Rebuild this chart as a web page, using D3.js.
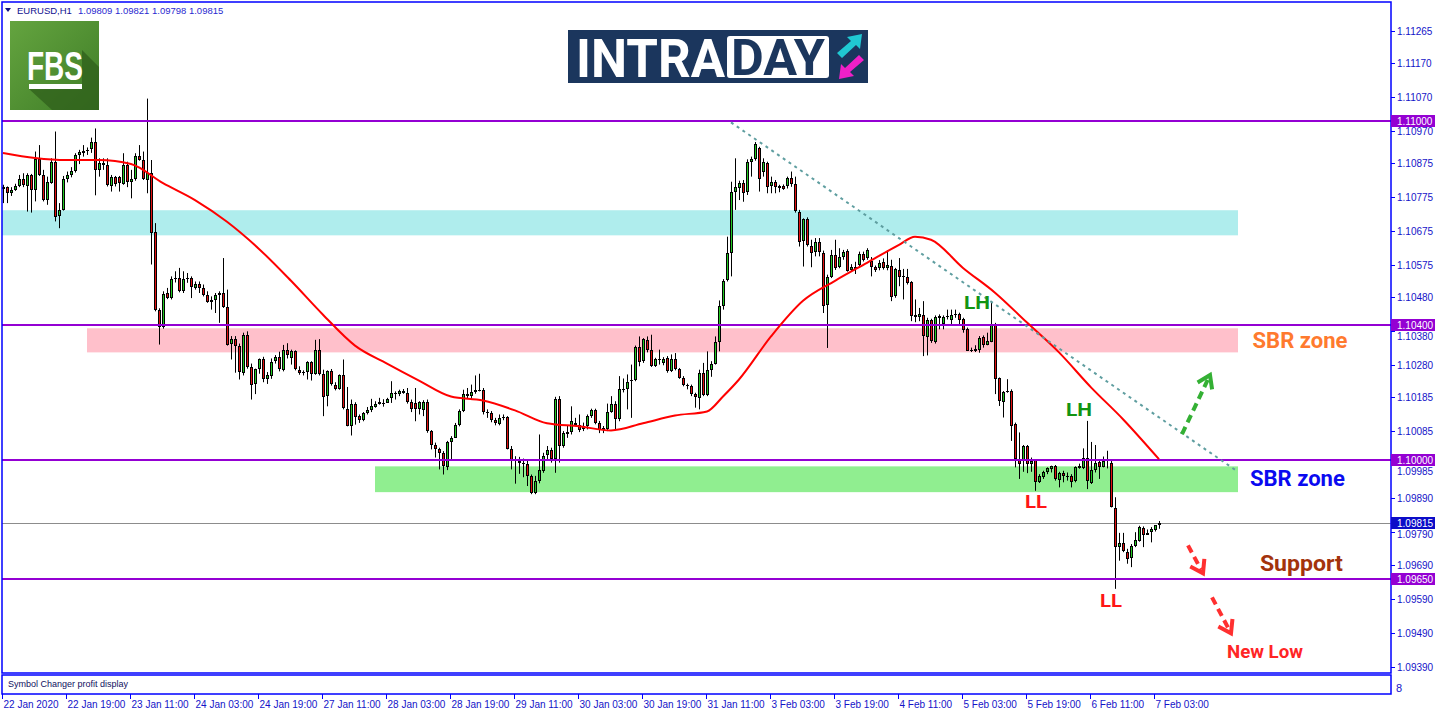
<!DOCTYPE html>
<html>
<head>
<meta charset="utf-8">
<script src="https://cdn.jsdelivr.net/npm/d3@7"></script>
<style>
body { margin: 0; background: #fff; }
svg { display: block; font-family: "Liberation Sans", Arial, sans-serif; }
</style>
</head>
<body>
<div id="container"></div>
<script>
const symbolName = "EURUSD,H1";
const lastQuote = ["1.09809", "1.09821", "1.09798", "1.09815"];

// H1 candles [open, high, low, close] in points, 10860 = 1.10860
const candles = [
  [10805,10812,10758,10800],[10804,10807,10758,10787],[10787,10805,10779,10797],[10796,10815,10794,10809],
  [10808,10841,10805,10828],[10828,10846,10805,10809],[10809,10846,10733,10841],[10841,10844,10730,10797],
  [10797,10910,10763,10887],[10887,10929,10838,10841],[10841,10856,10763,10766],[10766,10836,10753,10819],
  [10819,10890,10815,10880],[10880,10969,10704,10719],[10719,10758,10684,10738],[10738,10838,10736,10828],
  [10828,10851,10819,10841],[10841,10864,10834,10854],[10854,10905,10848,10900],[10900,10915,10873,10908],
  [10908,10929,10895,10912],[10912,10922,10900,10915],[10915,10951,10906,10937],[10937,10978,10781,10854],
  [10854,10890,10836,10875],[10875,10890,10856,10870],[10870,10890,10807,10810],[10810,10841,10792,10836],
  [10836,10838,10807,10815],[10834,10838,10792,10815],[10815,10905,10812,10870],[10870,10880,10805,10819],
  [10819,10856,10772,10829],[10829,10905,10824,10897],[10897,10929,10883,10885],[10885,10910,10826,10828],
  [10828,11066,10787,10848],[10848,10885,10577,10672],[10672,10699,10439,10442],[10442,10448,10341,10393],
  [10393,10498,10388,10491],[10493,10508,10475,10478],[10478,10542,10474,10534],[10534,10557,10524,10536],
  [10536,10567,10495,10498],[10498,10557,10493,10534],[10534,10552,10523,10536],[10536,10542,10478,10508],
  [10508,10527,10503,10521],[10521,10527,10493,10508],[10508,10518,10483,10488],[10488,10498,10464,10467],
  [10467,10483,10444,10472],[10472,10493,10434,10488],[10488,10498,10405,10493],[10493,10596,10449,10452],
  [10452,10503,10338,10341],[10341,10366,10297,10356],[10356,10366,10258,10336],[10336,10344,10238,10258],
  [10258,10376,10250,10369],[10370,10380,10270,10276],[10276,10285,10179,10223],[10223,10270,10195,10268],
  [10268,10300,10255,10297],[10297,10305,10230,10238],[10238,10260,10225,10250],[10250,10300,10240,10291],
  [10291,10310,10285,10303],[10303,10320,10262,10268],[10268,10340,10262,10326],[10326,10345,10300,10311],
  [10301,10326,10282,10321],[10321,10324,10265,10267],[10267,10277,10252,10257],[10257,10265,10250,10260],
  [10260,10292,10238,10289],[10289,10292,10235,10255],[10255,10355,10252,10326],[10326,10357,10250,10255],
  [10255,10267,10130,10187],[10187,10265,10159,10262],[10262,10269,10220,10223],[10223,10230,10206,10210],
  [10210,10253,10208,10250],[10250,10297,10150,10152],[10152,10216,10100,10103],[10103,10179,10073,10167],
  [10167,10171,10105,10130],[10130,10135,10110,10118],[10118,10142,10115,10140],[10140,10157,10135,10148],
  [10148,10181,10142,10159],[10159,10174,10155,10167],[10167,10184,10164,10173],[10168,10180,10158,10170],
  [10170,10184,10169,10181],[10181,10233,10169,10197],[10197,10203,10179,10194],[10194,10208,10189,10203],
  [10203,10210,10196,10199],[10199,10213,10167,10171],[10171,10179,10142,10150],[10169,10213,10115,10150],
  [10150,10174,10135,10171],[10147,10177,10130,10171],[10171,10179,10081,10086],[10086,10089,10032,10045],
  [10045,10052,10008,10032],[10032,10037,9973,10020],[10020,10027,9958,9981],[9981,10057,9971,10054],
  [10054,10071,10003,10066],[10066,10110,10066,10103],[10103,10150,10100,10145],[10145,10208,10142,10196],
  [10196,10213,10181,10190],[10190,10223,10179,10201],[10201,10250,10196,10206],[10206,10255,10203,10208],
  [10206,10213,10135,10142],[10142,10150,10125,10140],[10140,10145,10112,10118],[10118,10125,10103,10108],
  [10108,10135,10103,10125],[10125,10135,10118,10127],[10127,10130,10032,10034],[10034,10042,9973,10003],
  [10003,10012,9931,9998],[9998,10010,9960,9993],[9993,10005,9950,9990],[9990,9998,9924,9954],
  [9954,9958,9900,9903],[9903,9954,9900,9939],[9939,10076,9932,9971],[9971,10022,9963,10014],
  [10014,10042,9998,10029],[10029,10037,9993,10003],[10003,10187,9963,10181],[10181,10189,9993,10042],
  [10042,10086,10037,10079],[10079,10101,10066,10083],[10083,10159,10076,10115],[10110,10125,10100,10103],
  [10103,10135,10083,10088],[10090,10111,10086,10100],[10100,10135,10091,10130],[10130,10152,10125,10148],
  [10148,10152,10106,10111],[10111,10116,10080,10091],[10091,10101,10080,10096],[10093,10167,10086,10142],
  [10142,10189,10140,10167],[10165,10174,10091,10120],[10120,10248,10115,10209],[10209,10241,10200,10211],
  [10209,10253,10150,10231],[10233,10282,10125,10236],[10236,10338,10233,10334],[10334,10365,10277,10290],
  [10290,10360,10287,10356],[10354,10365,10318,10324],[10324,10370,10275,10277],[10277,10302,10275,10297],
  [10297,10326,10282,10299],[10287,10304,10280,10299],[10302,10307,10258,10263],[10263,10312,10260,10299],
  [10299,10316,10265,10269],[10269,10272,10240,10243],[10243,10248,10218,10221],[10221,10226,10209,10219],
  [10219,10223,10189,10194],[10194,10199,10155,10184],[10184,10267,10150,10258],[10258,10287,10189,10192],
  [10192,10321,10189,10265],[10265,10292,10246,10284],[10284,10365,10282,10350],[10350,10471,10321,10456],
  [10456,10534,10444,10529],[10529,10659,10527,10610],[10610,10821,10542,10790],[10790,10890,10738,10804],
  [10804,10824,10767,10818],[10818,10826,10762,10789],[10789,10887,10782,10878],[10878,10895,10836,10888],
  [10888,10938,10883,10931],[10919,10924,10792,10828],[10848,10890,10836,10878],[10875,10880,10787,10804],
  [10806,10836,10787,10819],[10819,10826,10787,10804],[10804,10812,10790,10808],[10808,10813,10797,10800],
  [10806,10836,10801,10831],[10831,10851,10806,10813],[10813,10836,10730,10733],[10733,10738,10630,10645],
  [10645,10713,10571,10710],[10710,10716,10630,10632],[10632,10650,10569,10612],[10612,10655,10601,10642],
  [10642,10655,10601,10612],[10612,10618,10434,10456],[10456,10547,10331,10540],[10540,10620,10537,10606],
  [10606,10650,10561,10569],[10569,10625,10566,10598],[10601,10620,10591,10615],[10617,10622,10556,10559],
  [10563,10578,10555,10571],[10571,10585,10549,10565],[10576,10615,10571,10608],[10608,10615,10586,10591],
  [10595,10625,10591,10620],[10587,10599,10542,10570],[10570,10574,10555,10560],[10567,10590,10560,10582],
  [10584,10595,10562,10567],[10567,10619,10560,10577],[10574,10591,10469,10484],[10484,10567,10479,10564],
  [10562,10596,10513,10542],[10542,10564,10474,10540],[10540,10564,10518,10521],[10526,10528,10410,10425],
  [10428,10474,10407,10422],[10423,10449,10410,10432],[10427,10469,10307,10366],[10364,10420,10309,10413],
  [10413,10417,10346,10351],[10348,10427,10344,10423],[10420,10430,10386,10425],[10403,10427,10386,10423],
  [10423,10444,10415,10425],[10413,10444,10400,10427],[10427,10444,10420,10430],[10430,10435,10400,10413],
  [10417,10420,10376,10384],[10388,10391,10322,10324],[10324,10332,10319,10323],[10324,10339,10319,10329],
  [10327,10366,10317,10361],[10364,10368,10332,10339],[10339,10376,10339,10351],[10351,10464,10348,10403],
  [10403,10405,10195,10241],[10241,10244,10160,10172],[10172,10204,10126,10201],[10201,10239,10199,10204],
  [10204,10209,10057,10101],[10106,10111,9979,10003],[10003,10082,9945,9989],[10001,10045,9966,10043],
  [10041,10045,9962,9989],[9989,10008,9966,9999],[10001,10003,9910,9937],[9935,9959,9933,9954],
  [9952,9969,9945,9966],[9964,9979,9959,9976],[9972,9984,9964,9982],[9984,9986,9940,9945],
  [9940,9966,9920,9962],[9962,9969,9935,9954],[9954,9964,9940,9952],[9954,9959,9920,9937],
  [9937,9982,9935,9979],[9979,9990,9975,9984],[9979,10035,9974,10008],[10008,10116,9915,9940],
  [9933,10054,9930,9972],[9972,10045,9964,9992],[9996,10003,9945,9982],[9982,10011,9979,9999],
  [10005,10028,9976,9999],[9992,9999,9861,9861],[9858,9891,9621,9744],[9744,9786,9704,9756],
  [9756,9786,9729,9731],[9731,9739,9695,9709],[9711,9753,9685,9747],[9747,9788,9744,9765],
  [9763,9807,9760,9803],[9800,9805,9744,9780],[9780,9796,9780,9786],[9788,9803,9758,9796],
  [9795,9809,9790,9809],[9809,9821,9798,9815]
];

const timeTickBars = [0, 16, 32, 48, 64, 80, 96, 112, 128, 144, 160, 176, 192, 208, 224, 240, 256, 272, 288];
const timeLabels = ["22 Jan 2020", "22 Jan 19:00", "23 Jan 11:00", "24 Jan 03:00", "24 Jan 19:00",
  "27 Jan 11:00", "28 Jan 03:00", "28 Jan 19:00", "29 Jan 11:00", "30 Jan 03:00", "30 Jan 19:00",
  "31 Jan 11:00", "3 Feb 03:00", "3 Feb 19:00", "4 Feb 11:00", "5 Feb 03:00", "5 Feb 19:00",
  "6 Feb 11:00", "7 Feb 03:00"];

const priceTicks = [1.11265, 1.11170, 1.11070, 1.10970, 1.10875, 1.10775, 1.10675, 1.10575, 1.10480, 1.10380,
  1.10280, 1.10185, 1.10085, 1.09985, 1.09890, 1.09790, 1.09690, 1.09590, 1.09490, 1.09390];

const levels = [1.11000, 1.10400, 1.10000, 1.09650];
const bidPrice = 1.09815;

// moving average at these bars
const maBars = [0, 8, 16, 24, 32, 40, 48, 56, 64, 72, 80, 88, 96, 104, 112, 120, 128, 136, 144, 152, 160, 168,
  176, 180, 184, 192, 200, 208, 216, 224, 228, 232, 240, 248, 256, 264, 272, 280, 289];
const maValues = [10906, 10891, 10885, 10885, 10873, 10817, 10767, 10703, 10623, 10529, 10429, 10338, 10285,
  10235, 10188, 10176, 10147, 10109, 10100, 10088, 10109, 10132, 10144, 10188, 10238, 10365, 10470, 10529,
  10582, 10635, 10659, 10650, 10567, 10494, 10406, 10318, 10215, 10121, 10003];

// zones
const zoneFrom = [-0.25, 21, 93];
const zoneTo = [308.75, 308.75, 308.75];
const zoneTop = [1.10737, 1.10389, 1.09982];
const zoneBottom = [1.10663, 1.10318, 1.09906];
const zoneColors = ["#afeded", "#ffc0cb", "#90ee90"];

// trend line
const trendBars = [182, 308.5];
const trendPrices = [1.10996, 1.09968];

// text labels
const noteText = ["LH", "LH", "LL", "LL", "SBR zone", "SBR zone", "Support", "New Low"];
const noteBar = [243.5, 269, 258.25, 277, 324.25, 323.6, 324.6, 315.5];
const notePrice = [1.10445, 1.1013, 1.09859, 1.09567, 1.1033, 1.09923, 1.09673, 1.09416];
const noteColors = ["#129412", "#129412", "#ff1515", "#ff1515", "#ff7a2e", "#0a0af0", "#a3330c", "#ff2525"];
const noteSize = [18, 18, 18, 18, 22, 22, 22, 19];
const noteWidth = [26, 26, 22, 22, 95, 95, 83, 76];

// dashed arrows [bar, price]
const arrowFrom = [[294.75, 1.10077], [296.25, 1.09749], [302.25, 1.09596]];
const arrowTo = [[301.75, 1.10251], [300, 1.09667], [307, 1.0949]];
const arrowColors = ["#34b034", "#ff3030", "#ff3030"];

const width = 1436, height = 716;
const plotLeft = 2, plotRight = 1391, plotTop = 2, plotBottom = 673;
const axisColor = "#0000ff";
const textColor = "#1414c8";

const x = d3.scaleLinear().domain([0, 1]).range([3, 7]);
const y = d3.scaleLinear().domain([1.0965, 1.11]).range([579, 121]);
const pt = v => 1 + v / 100000;

const svg = d3.create("svg")
  .attr("width", width)
  .attr("height", height)
  .attr("viewBox", `0 0 ${width} ${height}`);

svg.append("rect").attr("width", width).attr("height", height).attr("fill", "#fff");

svg.append("clipPath").attr("id", "plot")
  .append("rect")
  .attr("x", plotLeft).attr("y", plotTop)
  .attr("width", plotRight - plotLeft).attr("height", plotBottom - plotTop);

const plot = svg.append("g").attr("clip-path", "url(#plot)");

// zones
plot.selectAll(".zone")
  .data(zoneFrom)
  .join("rect")
  .attr("x", (d, i) => x(d))
  .attr("y", (d, i) => y(zoneTop[i]))
  .attr("width", (d, i) => x(zoneTo[i]) - x(d))
  .attr("height", (d, i) => y(zoneBottom[i]) - y(zoneTop[i]))
  .attr("fill", (d, i) => zoneColors[i]);

// bid line
plot.append("line")
  .attr("x1", plotLeft).attr("x2", plotRight)
  .attr("y1", Math.round(y(bidPrice)) + 0.5).attr("y2", Math.round(y(bidPrice)) + 0.5)
  .attr("stroke", "#8c8c8c").attr("stroke-width", 1);

// candles
const candleG = plot.append("g");
candles.forEach((d, i) => {
  const [o, h, l, c] = d.map(pt);
  const cx = Math.round(x(i)) + 0.5;
  candleG.append("line")
    .attr("x1", cx).attr("x2", cx)
    .attr("y1", y(h)).attr("y2", y(l))
    .attr("stroke", "#000").attr("stroke-width", 1);
  const top = Math.min(y(o), y(c));
  const bh = Math.abs(y(o) - y(c));
  if (bh < 1.2) {
    candleG.append("line")
      .attr("x1", cx - 1.5).attr("x2", cx + 1.5)
      .attr("y1", Math.round(top) + 0.5).attr("y2", Math.round(top) + 0.5)
      .attr("stroke", "#000");
  } else {
    candleG.append("rect")
      .attr("x", cx - 1).attr("y", Math.round(top) + 0.5)
      .attr("width", 2).attr("height", Math.max(1, Math.round(bh) - 1))
      .attr("fill", c >= o ? "#22c822" : "#e01010")
      .attr("stroke", "#000").attr("stroke-width", 1);
  }
});

// horizontal levels
plot.selectAll(".level")
  .data(levels)
  .join("line")
  .attr("x1", plotLeft).attr("x2", plotRight)
  .attr("y1", d => Math.round(y(d))).attr("y2", d => Math.round(y(d)))
  .attr("stroke", "#9400d3").attr("stroke-width", 2);

// moving average
const ma = maBars.map((b, i) => [b, pt(maValues[i])]);
plot.append("path")
  .datum(ma)
  .attr("fill", "none")
  .attr("stroke", "#ff0000")
  .attr("stroke-width", 2)
  .attr("d", d3.line().x(d => x(d[0])).y(d => y(d[1])).curve(d3.curveMonotoneX));

// trend line
plot.append("line")
  .attr("x1", x(trendBars[0])).attr("y1", y(trendPrices[0]))
  .attr("x2", x(trendBars[1])).attr("y2", y(trendPrices[1]))
  .attr("stroke", "#5f9ea0").attr("stroke-width", 2)
  .attr("stroke-dasharray", "3,4");

// arrows
arrowFrom.forEach((a, i) => {
  const x1 = x(a[0]), y1 = y(a[1]);
  const x2 = x(arrowTo[i][0]), y2 = y(arrowTo[i][1]);
  const len = Math.hypot(x2 - x1, y2 - y1);
  const dx = (x2 - x1) / len, dy = (y2 - y1) / len;
  const nx = -dy, ny = dx;
  plot.append("line")
    .attr("x1", x1).attr("y1", y1)
    .attr("x2", x2 - dx * 4).attr("y2", y2 - dy * 4)
    .attr("stroke", arrowColors[i]).attr("stroke-width", 4)
    .attr("stroke-dasharray", "8,5");
  const hl = 12, hw = 8;
  plot.append("polyline")
    .attr("points", [
      [x2 - dx * hl + nx * hw, y2 - dy * hl + ny * hw],
      [x2, y2],
      [x2 - dx * hl - nx * hw, y2 - dy * hl - ny * hw]
    ].map(p => p.join(",")).join(" "))
    .attr("fill", "none")
    .attr("stroke", arrowColors[i]).attr("stroke-width", 4)
    .attr("stroke-linejoin", "miter");
});

// notes
plot.selectAll(".note")
  .data(noteText)
  .join("text")
  .attr("x", (d, i) => x(noteBar[i]))
  .attr("y", (d, i) => y(notePrice[i]))
  .attr("text-anchor", "middle")
  .attr("font-family", "Roboto, 'Liberation Sans', sans-serif")
  .attr("font-weight", "bold")
  .attr("font-size", (d, i) => noteSize[i])
  .attr("textLength", (d, i) => noteWidth[i])
  .attr("lengthAdjust", "spacingAndGlyphs")
  .attr("fill", (d, i) => noteColors[i])
  .text(d => d);

// FBS logo
const fbs = svg.append("g");
const grad = svg.append("defs").append("linearGradient")
  .attr("id", "fbsGrad").attr("x1", 0).attr("y1", 0).attr("x2", 1).attr("y2", 1);
grad.append("stop").attr("offset", 0).attr("stop-color", "#64a43f");
grad.append("stop").attr("offset", 1).attr("stop-color", "#3f7d27");
fbs.append("rect").attr("x", 10).attr("y", 21).attr("width", 89).attr("height", 89).attr("fill", "url(#fbsGrad)");
fbs.append("polygon")
  .attr("points", "82,50 99,67 99,110 52,110 29,89 82,89")
  .attr("fill", "#2f5f1b").attr("opacity", 0.75);
fbs.append("text")
  .attr("x", 27).attr("y", 80)
  .attr("font-weight", "bold").attr("font-size", 40)
  .attr("textLength", 56).attr("lengthAdjust", "spacingAndGlyphs")
  .attr("fill", "#fff").text("FBS");
fbs.append("rect").attr("x", 29).attr("y", 84).attr("width", 53).attr("height", 5).attr("fill", "#fff");

// INTRADAY logo
const logo = svg.append("g");
logo.append("rect").attr("x", 568).attr("y", 30).attr("width", 300).attr("height", 53).attr("fill", "#1b365d");
logo.append("text")
  .attr("x", 576).attr("y", 77)
  .attr("font-family", "Roboto, 'Liberation Sans', sans-serif")
  .attr("font-weight", "bold").attr("font-size", 54)
  .attr("textLength", 149).attr("lengthAdjust", "spacingAndGlyphs")
  .attr("fill", "#fff").text("INTRA");
logo.append("rect").attr("x", 727).attr("y", 36).attr("width", 102).attr("height", 42).attr("rx", 3).attr("fill", "#fff");
logo.append("text")
  .attr("x", 731).attr("y", 75)
  .attr("font-family", "Roboto, 'Liberation Sans', sans-serif")
  .attr("font-weight", "bold").attr("font-size", 50)
  .attr("textLength", 94).attr("lengthAdjust", "spacingAndGlyphs")
  .attr("fill", "#1b365d").text("DAY");
logo.append("polygon")
  .attr("points", "837,53 851,41 847,37 862,34 860,49 856,45 842,58")
  .attr("fill", "#20c8d2");
logo.append("polygon")
  .attr("points", "864,60 850,72 854,76 839,79 841,64 845,68 859,55")
  .attr("fill", "#f020c8");

// header
svg.append("path").attr("d", "M5,8 L11,8 L8,12 Z").attr("fill", "#101080");
svg.append("text")
  .attr("x", 17).attr("y", 14)
  .attr("font-size", 9.5).attr("fill", "#101090")
  .text(symbolName);
svg.append("text")
  .attr("x", 78).attr("y", 14)
  .attr("font-size", 9.5).attr("fill", "#2a2ad0")
  .text(lastQuote.join(" "));

// frame
svg.append("rect")
  .attr("x", plotLeft).attr("y", plotTop)
  .attr("width", plotRight - plotLeft).attr("height", plotBottom - plotTop)
  .attr("fill", "none").attr("stroke", axisColor).attr("stroke-width", 1.5);
svg.append("rect")
  .attr("x", plotLeft).attr("y", 675)
  .attr("width", plotRight - plotLeft).attr("height", 19)
  .attr("fill", "none").attr("stroke", axisColor).attr("stroke-width", 1.5);
svg.append("text")
  .attr("x", 8).attr("y", 687)
  .attr("font-size", 9).attr("fill", "#101060")
  .text("Symbol Changer profit display");
svg.append("text")
  .attr("x", 1396).attr("y", 692)
  .attr("font-size", 11).attr("fill", textColor)
  .text("8");

// price axis; a tick label hidden under a level tag shows only below it
const pAxis = svg.append("g");
const tagged = levels.concat([bidPrice]);
priceTicks.forEach(p => {
  const yy = Math.round(y(p)) + 0.5;
  pAxis.append("line")
    .attr("x1", plotRight).attr("x2", plotRight + 4)
    .attr("y1", yy).attr("y2", yy)
    .attr("stroke", axisColor);
  let ty = yy + 3.5;
  tagged.forEach(t => {
    const tagBottom = Math.round(y(t)) + 6;
    if (ty - 8 < tagBottom && ty > tagBottom - 12) ty = tagBottom + 8.5;
  });
  pAxis.append("text")
    .attr("x", 1397).attr("y", ty)
    .attr("font-size", 10).attr("fill", textColor)
    .text(p.toFixed(5));
});

function priceTag(p, bg) {
  const yy = Math.round(y(p));
  pAxis.append("rect")
    .attr("x", plotRight).attr("y", yy - 6)
    .attr("width", 44).attr("height", 12)
    .attr("fill", bg);
  pAxis.append("text")
    .attr("x", 1397).attr("y", yy + 4)
    .attr("font-size", 10).attr("fill", "#fff")
    .text(p.toFixed(5));
}
levels.forEach(p => priceTag(p, "#9400d3"));
priceTag(bidPrice, "#0c0cc8");

// time axis
const tAxis = svg.append("g");
timeTickBars.forEach((b, i) => {
  const xx = Math.round(x(b)) - 0.5;
  tAxis.append("line")
    .attr("x1", xx).attr("x2", xx)
    .attr("y1", 694).attr("y2", 699)
    .attr("stroke", axisColor);
  tAxis.append("text")
    .attr("x", xx + 1).attr("y", 708)
    .attr("font-size", 10).attr("fill", textColor)
    .text(timeLabels[i]);
});

document.querySelector("#container").appendChild(svg.node());
</script>
</body>
</html>
